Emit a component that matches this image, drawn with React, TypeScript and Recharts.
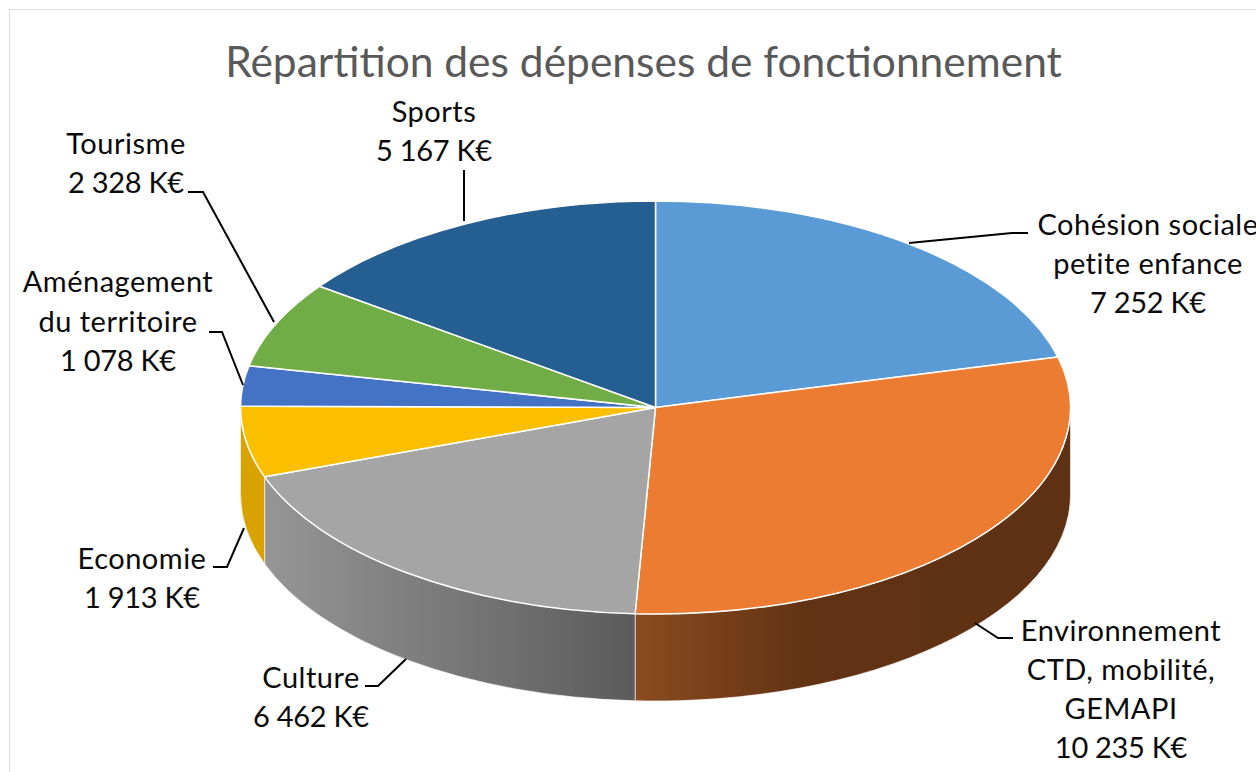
import React from "react";
import { PieChart, Pie, Cell } from "recharts";

const WIDTH = 1256;
const HEIGHT = 772;

const categories = [
  "Cohésion sociale petite enfance",
  "Environnement CTD, mobilité, GEMAPI",
  "Culture",
  "Economie",
  "Aménagement du territoire",
  "Tourisme",
  "Sports",
];
const values = [7252, 10235, 6462, 1913, 1078, 2328, 5167];
const labelLines = [
  ["Cohésion sociale", "petite enfance"],
  ["Environnement", "CTD, mobilité,", "GEMAPI"],
  ["Culture"],
  ["Economie"],
  ["Aménagement", "du territoire"],
  ["Tourisme"],
  ["Sports"],
];
const topColors = ["#5B9BD5", "#EB7C31", "#A5A5A5", "#FBBF00", "#4472C4", "#70AD47", "#255E91"];
const wallColors = ["#5B9BD5", "url(#wallEnv)", "url(#wallCulture)", "#D8A300", "#4472C4", "#70AD47", "#255E91"];

// label placement: centre x + first baseline, then the elbow leader line
const labelPos = [
  { x: 1148, y: 235, step: 39, line: "M1028 233H1012L909 243" },
  { x: 1121, y: 641, step: 39, line: "M1013 638H998L975 623" },
  { x: 311, y: 688, step: 39, line: "M365 686H378L406 659" },
  { x: 142, y: 569, step: 39, line: "M213 567H227L244 528" },
  { x: 118, y: 292, step: 39.5, line: "M209 332H222L243 385" },
  { x: 126, y: 154, step: 39, line: "M188 192H203L274 322" },
  { x: 434, y: 122, step: 39, line: "M464 170V221" },
];

const CX = 655.5;
const CY = 407.5;
const RX = 415;
const RY = 206.5;
const DEPTH = 87;

const rows = categories.map((name, i) => ({ name, value: values[i] }));

const fmt = (v: number) => String(v).replace(/\B(?=(\d{3})+$)/g, " ") + " K€";

function pt(deg: number, r: number, cx: number, cy: number) {
  const a = (deg * Math.PI) / 180;
  const ry = (r * RY) / RX;
  return [cx + r * Math.cos(a), cy - ry * Math.sin(a)];
}

// one slice squashed onto the ellipse, plus its front wall if it has one
function Slice(props: any) {
  const { cx, cy, outerRadius: r, startAngle, endAngle, index } = props;
  const ry = (r * RY) / RX;
  const [x0, y0] = pt(startAngle, r, cx, cy);
  const [x1, y1] = pt(endAngle, r, cx, cy);
  const top = `M${cx} ${cy}L${x0} ${y0}A${r} ${ry} 0 0 1 ${x1} ${y1}Z`;

  const wStart = Math.min(startAngle, 0);
  const wEnd = Math.max(endAngle, -180);
  let wall = null;
  if (wStart > wEnd) {
    const [a0, b0] = pt(wStart, r, cx, cy);
    const [a1, b1] = pt(wEnd, r, cx, cy);
    const d = `M${a0} ${b0}A${r} ${ry} 0 0 1 ${a1} ${b1}L${a1} ${b1 + DEPTH}A${r} ${ry} 0 0 0 ${a0} ${b0 + DEPTH}Z`;
    wall = <path d={d} fill={wallColors[index]} stroke="#fff" strokeOpacity={0.6} strokeWidth={1} />;
  }
  return (
    <g>
      {wall}
      <path d={top} fill={topColors[index]} stroke="#fff" strokeWidth={1.5} strokeLinejoin="round" />
    </g>
  );
}

function SliceLabel(props: any) {
  const { index } = props;
  const p = labelPos[index];
  const names = labelLines[index];
  const lines = [...names, fmt(values[index])];
  return (
    <g>
      <path d={p.line} fill="none" stroke="#000" strokeWidth={2} />
      {lines.map((t, i) => (
        <text
          key={t}
          x={p.x}
          y={p.y + i * p.step}
          textAnchor="middle"
          fontFamily="Lato, 'Noto Sans', sans-serif"
          fontSize={29}
          letterSpacing={i < names.length ? 0.5 : -0.3}
          fill="#0a0a0a"
        >
          {t}
        </text>
      ))}
    </g>
  );
}

export default function App() {
  return (
    <div style={{ position: "absolute", left: 0, top: 0, width: WIDTH, height: HEIGHT, overflow: "hidden", background: "#fff" }}>
      <div style={{ position: "absolute", left: 9, top: 9, width: WIDTH + 20, height: HEIGHT + 20, border: "1px solid #d9d9d9" }} />
      <PieChart width={WIDTH} height={HEIGHT} margin={{ top: 0, right: 0, bottom: 0, left: 0 }}>
        <defs>
          <linearGradient id="wallEnv" x1="0" y1="0" x2="1" y2="0">
            <stop offset="0" stopColor="#8A4B20" />
            <stop offset="0.4" stopColor="#613213" />
            <stop offset="1" stopColor="#5F3114" />
          </linearGradient>
          <linearGradient id="wallCulture" x1="0" y1="0" x2="1" y2="0">
            <stop offset="0" stopColor="#969696" />
            <stop offset="1" stopColor="#5B5B5B" />
          </linearGradient>
        </defs>
        <text x={643.5} y={77} textAnchor="middle" fontFamily="Lato, 'Noto Sans', sans-serif" fontSize={42.5} fill="#595959">
          Répartition des dépenses de fonctionnement
        </text>
        <Pie
          data={rows}
          dataKey="value"
          nameKey="name"
          cx={CX}
          cy={CY}
          innerRadius={0}
          outerRadius={RX}
          startAngle={90}
          endAngle={-270}
          isAnimationActive={false}
          shape={Slice}
          label={SliceLabel}
          labelLine={false}
          stroke="#fff"
        >
          {rows.map((r, i) => (
            <Cell key={r.name} fill={topColors[i]} />
          ))}
        </Pie>
      </PieChart>
    </div>
  );
}
